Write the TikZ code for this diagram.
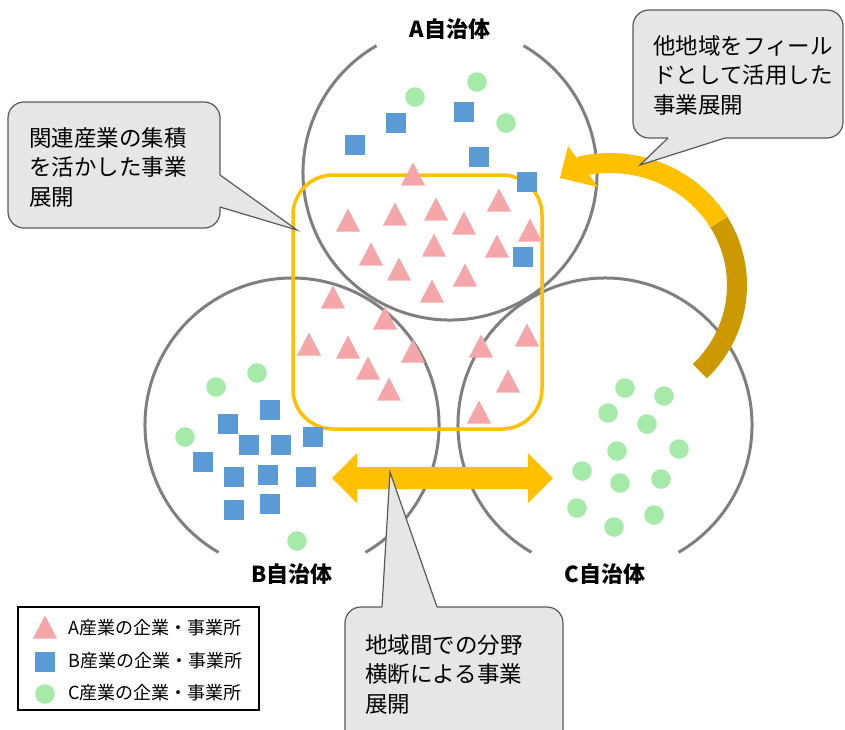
\documentclass[tikz,border=0pt]{standalone}
\usepackage{fontspec}
\setmainfont{Noto Sans CJK JP}
\definecolor{circgray}{HTML}{7F7F7F}
\definecolor{gold}{HTML}{FFC000}
\definecolor{darkgold}{HTML}{CC9A00}
\definecolor{pinkc}{HTML}{F4A6A8}
\definecolor{bluec}{HTML}{5B9BD5}
\definecolor{greenc}{HTML}{A6EAAA}
\definecolor{callfill}{HTML}{E7E6E6}
\definecolor{callline}{HTML}{595959}
\begin{document}
\begin{tikzpicture}[x=1pt,y=-1pt,
  muni/.style={draw=circgray, line width=3pt},
  hub/.style={draw=gold, line width=3.5pt, rounded corners=40pt},
  callbox/.style={fill=callfill, draw=callline, line width=1.2pt, rounded corners=16pt},
  callptr/.style={draw=callline, line width=1.2pt, line join=miter},
  calltext/.style={anchor=west, inner sep=0pt, align=left, font=\fontsize{22.5}{29.5}\selectfont},
  lab/.style={inner sep=0pt, font=\bfseries\fontsize{22}{26}\selectfont},
  legtext/.style={anchor=west, inner sep=0pt, font=\fontsize{18}{20}\selectfont},
  tri/.pic={\fill[pinkc] (-12,11.5) -- (0,-11.5) -- (12,11.5) -- cycle;},
  sq/.pic={\fill[bluec] (-10,-10) rectangle (10,10);},
  dot/.pic={\fill[greenc] (0,0) circle[radius=9.8];},
]
\useasboundingbox (0,0) rectangle (845,729);
\clip (0,0) rectangle (845,729);

% municipalities
\draw[muni] (450,173) ++(-60:147) arc[start angle=-60, end angle=240, radius=147];
\draw[muni] (292,425) ++(120:147) arc[start angle=120, end angle=420, radius=147];
\draw[muni] (605,425) ++(120:147) arc[start angle=120, end angle=420, radius=147];

% cluster frame
\draw[hub] (293,175) rectangle (542,429);

% markers
\foreach \p in {(413,174),(348,220),(395,214),(436,209),(499,200),(464,223),(530,230),(371,254),(434,245),(497,246),(399,269),(465,275),(432,291),(333,297),(385,318),(309,344),(348,347),(413,351),(368,368),(389,389),(481,346),(527,335),(508,381),(479,412)}
  \pic at \p {tri};
\foreach \p in {(396,123),(355,145),(464,112),(479,157),(527,182),(523,257),(270,410),(228,424),(249,445),(281,445),(313,437),(203,462),(234,477),(268,475),(306,477),(234,510),(270,504)}
  \pic at \p {sq};
\foreach \p in {(415,97),(477,82),(506,123),(216,387),(257,373),(185,437),(297,541),(625,388),(664,396),(608,413),(647,424),(617,451),(679,449),(582,471),(620,483),(661,479),(577,508),(614,527),(654,515)}
  \pic at \p {dot};

% double arrow
\fill[gold] (332,478) -- (357,453) -- (357,467) -- (528,467) -- (528,453) -- (553,478) -- (528,503) -- (528,489) -- (357,489) -- (357,503) -- cycle;

% curved arrow
\draw[line width=20pt, darkgold] plot[domain=45:-33, samples=40] ({610+127*cos(\x)},{285+122*sin(\x)});
\draw[line width=20pt, gold] plot[domain=-31:-104, samples=40] ({610+127*cos(\x)},{285+122*sin(\x)});
\fill[gold] (560,178) -- (568,146) -- (598,187) -- cycle;

% labels
\node[lab] (la) at (450,29) {A自治体};
\node[lab] (lb) at (292,574) {B自治体};
\node[lab] (lc) at (605,574) {C自治体};

% callout 1
\draw[callbox] (8,102) rectangle (220,228);
\fill[callfill] (217,176) -- (220,175) -- (297,230) -- (220,207) -- (217,206) -- cycle;
\draw[callptr] (220,175) -- (297,230) -- (220,207);
\node[calltext] (c1) at (29,167) {関連産業の集積\\を活かした事業\\展開};

% callout 2
\draw[callbox] (633,10) rectangle (843,138);
\fill[callfill] (669,135) -- (668,138) -- (640,165) -- (725,138) -- (724,135) -- cycle;
\draw[callptr] (668,138) -- (640,165) -- (725,138);
\node[calltext] (c2) at (653,75) {他地域をフィール\\ドとして活用した\\事業展開};

% callout 3
\draw[callbox] (345,607) rectangle (563,745);
\fill[callfill] (383,610) -- (382,607) -- (390,472) -- (437,607) -- (436,610) -- cycle;
\draw[callptr] (382,607) -- (390,472) -- (437,607);
\node[calltext] (c3) at (365,674) {地域間での分野\\横断による事業\\展開};

% legend
\draw[black, line width=1.5pt] (18,607) rectangle (259,710);
\pic at (45,627) {tri};
\pic at (45,662) {sq};
\pic at (45,694) {dot};
\node[legtext] (l1) at (68,628) {A産業の企業・事業所};
\node[legtext] (l2) at (68,661) {B産業の企業・事業所};
\node[legtext] (l3) at (68,693) {C産業の企業・事業所};
\end{tikzpicture}
\end{document}
